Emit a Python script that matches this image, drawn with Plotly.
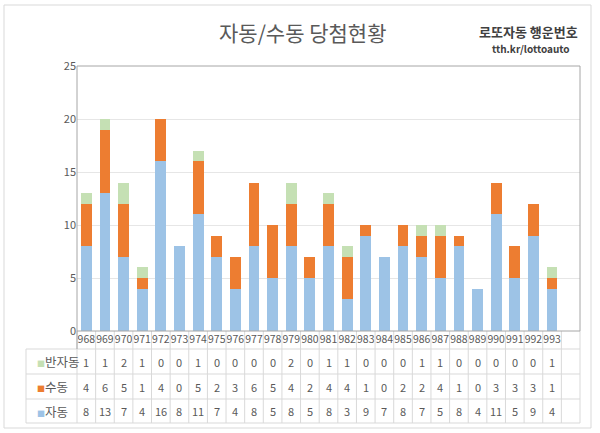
import plotly.graph_objects as go

rounds = [str(r) for r in range(968, 994)]
auto = [8, 13, 7, 4, 16, 8, 11, 7, 4, 8, 5, 8, 5, 8, 3, 9, 7, 8, 7, 5, 8, 4, 11, 5, 9, 4]
manual = [4, 6, 5, 1, 4, 0, 5, 2, 3, 6, 5, 4, 2, 4, 4, 1, 0, 2, 2, 4, 1, 0, 3, 3, 3, 1]
semi = [1, 1, 2, 1, 0, 0, 1, 0, 0, 0, 0, 2, 0, 1, 1, 0, 0, 0, 1, 1, 0, 0, 0, 0, 0, 1]

series_names = ["반자동", "수동", "자동"]
colors = {"자동": "#9DC3E6", "수동": "#ED7D31", "반자동": "#C5E0B4"}
title_text = "자동/수동 당첨현황"
brand1 = "로또자동 행운번호"
brand2 = "tth.kr/lottoauto"

FONT = "Noto Sans CJK KR"
GRAY = "#595959"
n_slots = len(rounds) + 1  # one empty column at the end

fig = go.Figure()
for name, vals in [("자동", auto), ("수동", manual), ("반자동", semi)]:
    fig.add_trace(go.Bar(x=rounds, y=vals, name=name, marker_color=colors[name],
                         marker_line_width=0, width=0.58))

W, H = 600, 433
ml, mr, mt, mb = 77, 20, 66, 102
pw = W - ml - mr
ph = H - mt - mb

def py(pix):
    return (H - mb - pix) / ph

def px(pix):
    return (pix - ml) / pw

row_bounds = [349, 374, 399, 423]
row_data = {"반자동": semi, "수동": manual, "자동": auto}

annotations = []
shapes = []
for r, name in enumerate(series_names):
    yc = py((row_bounds[r] + row_bounds[r + 1]) / 2)
    for i, rd in enumerate(rounds):
        annotations.append(dict(x=i, y=yc, xref="x", yref="paper", text=str(row_data[name][i]),
                                xanchor="center", yanchor="middle",
                                showarrow=False, font=dict(family=FONT, size=11, color=GRAY)))
    annotations.append(dict(x=px(35), y=yc, xref="paper", yref="paper", xanchor="left", yanchor="middle",
                            text=f"<span style='color:{colors[name]};font-size:8px'>■</span>{name}",
                            showarrow=False, font=dict(family=FONT, size=12.5, color=GRAY)))

LINE = "#D9D9D9"
for k in range(n_slots + 1):
    shapes.append(dict(type="line", xref="paper", yref="paper", x0=k / n_slots, x1=k / n_slots,
                       y0=py(row_bounds[-1]), y1=0, line=dict(color=LINE, width=1)))
shapes.append(dict(type="line", xref="paper", yref="paper", x0=px(26), x1=px(26),
                   y0=py(row_bounds[-1]), y1=py(row_bounds[0]), line=dict(color=LINE, width=1)))
for b in row_bounds:
    shapes.append(dict(type="line", xref="paper", yref="paper", x0=px(26), x1=1,
                       y0=py(b), y1=py(b), line=dict(color=LINE, width=1)))
shapes.append(dict(type="rect", xref="paper", yref="paper", x0=0, x1=1, y0=0, y1=1,
                   line=dict(color="#A6A6A6", width=1)))
shapes.append(dict(type="line", xref="paper", yref="paper", x0=0, x1=0, y0=py(349), y1=0,
                   line=dict(color="#A6A6A6", width=1)))
shapes.append(dict(type="rect", xref="paper", yref="paper", x0=px(4), x1=px(591), y0=py(428), y1=py(5),
                   line=dict(color="#D9D9D9", width=1)))

annotations.append(dict(x=px(303), y=py(32), xref="paper", yref="paper", text=title_text,
                        xanchor="center", yanchor="middle",
                        showarrow=False, font=dict(family=FONT, size=21, color=GRAY)))
annotations.append(dict(x=px(580), y=py(31), xref="paper", yref="paper", xanchor="right", yanchor="middle",
                        text=f"<b>{brand1}</b>", showarrow=False,
                        font=dict(family=FONT, size=13, color="#404040")))
annotations.append(dict(x=px(572), y=py(48.5), xref="paper", yref="paper", xanchor="right", yanchor="middle",
                        text=f"<b>{brand2}</b>", showarrow=False,
                        font=dict(family=FONT, size=10, color="#404040")))

fig.update_layout(
    width=W, height=H,
    margin=dict(l=ml, r=mr, t=mt, b=mb),
    barmode="stack",
    showlegend=False,
    plot_bgcolor="white", paper_bgcolor="white",
    font=dict(family=FONT, color=GRAY),
    xaxis=dict(type="category", range=[-0.5, n_slots - 0.5], tickangle=0, showgrid=False,
               ticks="", tickfont=dict(size=10.5, color=GRAY), showline=False, fixedrange=True),
    yaxis=dict(range=[0, 25], dtick=5, showgrid=True, gridcolor="#E6E6E6", zeroline=False,
               ticks="", tickfont=dict(size=11, color=GRAY), showline=False),
    shapes=shapes,
    annotations=annotations,
    bargap=0.4,
)

fig.write_html("out.html", config={"displayModeBar": False},
               post_script="document.body.style.margin='0';document.body.style.overflow='hidden';")
